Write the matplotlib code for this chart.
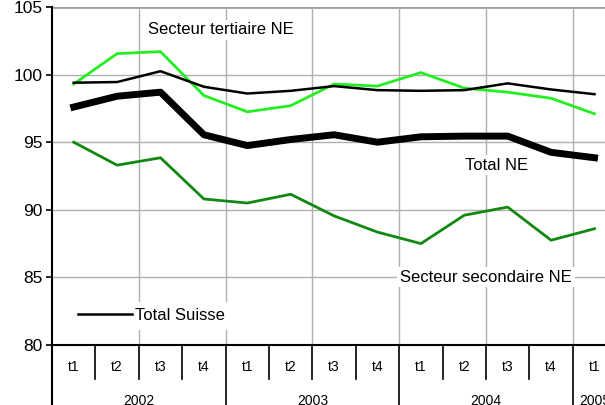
import matplotlib.pyplot as plt
import matplotlib.transforms as mtransforms

plt.rcParams['font.family'] = ['Liberation Sans', 'DejaVu Sans']

quarters = ['t1', 't2', 't3', 't4'] * 3 + ['t1']
years = ['2002', '2003', '2004', '2005']
year_start = [0, 4, 8, 12]

total_suisse = [99.4, 99.45, 100.25, 99.1, 98.6, 98.8, 99.15, 98.85, 98.8, 98.85, 99.35, 98.9, 98.55]
tertiaire_ne = [99.3, 101.55, 101.7, 98.45, 97.25, 97.7, 99.3, 99.15, 100.15, 99.0, 98.7, 98.25, 97.1]
total_ne = [97.6, 98.4, 98.7, 95.55, 94.75, 95.2, 95.55, 95.0, 95.4, 95.45, 95.45, 94.25, 93.85]
secondaire_ne = [95.0, 93.3, 93.85, 90.8, 90.5, 91.15, 89.55, 88.35, 87.5, 89.6, 90.2, 87.75, 88.6]

x = list(range(len(quarters)))

W, H = 605, 405
fig = plt.figure(figsize=(W / 100, H / 100), dpi=100)
ax = fig.add_axes([52 / W, 1 - 345 / H, 13 * 43.4 / W, 338 / H])

ax.set_xlim(-0.5, 12.5)
ax.set_ylim(80, 105)
ax.set_yticks([80, 85, 90, 95, 100, 105])
ax.tick_params(axis='y', labelsize=12.5, length=4, width=1.2, direction='out', pad=3)
ax.set_xticks([])

for v in [85, 90, 95, 100]:
    ax.axhline(v, color='#b0b0b0', lw=1, zorder=0)
ax.axhline(105, color='#a0a0a0', lw=2, zorder=0)
for b in [1.5, 3.5, 5.5, 7.5, 9.5, 11.5]:
    ax.axvline(b, color='#b0b0b0', lw=1, zorder=0)

for s in ['top', 'right']:
    ax.spines[s].set_visible(False)
ax.spines['left'].set_linewidth(1.5)
ax.spines['bottom'].set_linewidth(1.5)

ax.plot(x, secondaire_ne, color='#118811', lw=2, zorder=3)
ax.plot(x, tertiaire_ne, color='#22ee22', lw=2, zorder=3)
ax.plot(x, total_suisse, color='black', lw=1.8, zorder=4, label='Total Suisse')
ax.plot(x, total_ne, color='black', lw=5, zorder=4)


def px_text(px, py, s):
    fig.text(px / W, 1 - py / H, s, fontsize=12, ha='center', va='center', zorder=5,
             bbox=dict(facecolor='white', edgecolor='none', pad=2))


px_text(221, 30, 'Secteur tertiaire NE')
px_text(497, 165, 'Total NE')
px_text(486, 277, 'Secteur secondaire NE')

leg = ax.legend(loc='lower left', bbox_to_anchor=(0.02, 0.02), frameon=True, fontsize=12,
                handlelength=3.2, handletextpad=0.2, borderpad=0.4)
leg.get_frame().set_edgecolor('none')
leg.get_frame().set_facecolor('white')
leg.get_frame().set_alpha(1)

# category axis below the plot
trans = mtransforms.blended_transform_factory(ax.transData, ax.transAxes)
for i in range(1, 13):
    low = -0.2 if i in year_start else -0.1
    ax.plot([i - 0.5, i - 0.5], [0, low], color='black', lw=1.2, transform=trans, clip_on=False)
ax.plot([-0.5, -0.5], [0, -0.2], color='black', lw=1.5, transform=trans, clip_on=False)
for i, q in enumerate(quarters):
    ax.text(i, -0.065, q, transform=trans, ha='center', va='center', fontsize=10)
for k, yr in enumerate(years[:-1]):
    ax.text(year_start[k] + 1.5, -0.165, yr, transform=trans, ha='center', va='center', fontsize=10)
ax.text(year_start[-1] - 0.35, -0.165, years[-1], transform=trans, ha='left', va='center', fontsize=10)

fig.savefig('out.png', dpi=100)
